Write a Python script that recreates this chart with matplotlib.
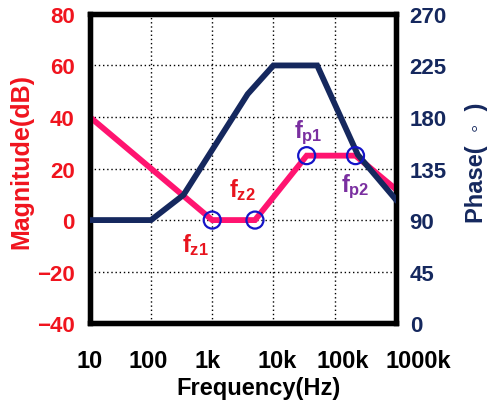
import matplotlib
matplotlib.use("Agg")
import matplotlib.pyplot as plt
from matplotlib.transforms import blended_transform_factory, offset_copy
import numpy as np

plt.rcParams['font.family'] = ['Liberation Sans', 'DejaVu Sans']
plt.rcParams['font.weight'] = 'bold'
plt.rcParams['axes.labelweight'] = 'bold'
plt.rcParams['mathtext.fontset'] = 'custom'
plt.rcParams['mathtext.rm'] = 'Liberation Sans:bold'
plt.rcParams['mathtext.bf'] = 'Liberation Sans:bold'
plt.rcParams['mathtext.it'] = 'Liberation Sans:bold'

# magnitude (dB) corner points
mag_f = [10, 1e3, 5e3, 35e3, 220e3, 1e6]
mag_db = [40, 0, 0, 25, 25, 12]

# phase (deg) corner points
ph_f = [10, 100, 340, 3.8e3, 10e3, 52e3, 240e3, 1e6]
ph_deg = [90, 90, 112, 200, 225, 225, 147, 108]

# marked zeros / poles
mark_f = [1e3, 5e3, 35e3, 220e3]
mark_db = [0, 0, 25, 25]
mark_txt = [r'$f_{z1}$', r'$f_{z2}$', r'$f_{p1}$', r'$f_{p2}$']
mark_col = ['#E8141E', '#E8141E', '#7A2FA0', '#7A2FA0']
mark_off = [(-12, -17), (-9, 22), (1, 17), (0, -22)]

xticks = [10, 100, 1e3, 1e4, 1e5, 1e6]
xlabels = ['10', '100', '1k', '10k', '100k', '1000k']
xlabel_shift = [0, -2, -3, 3, 6, 16]  # points, labels in the original drift right

red = '#F0141E'
navy = '#15285E'
pink = '#FF1470'

fig = plt.figure(figsize=(4.91, 4.14), dpi=100)
ax = fig.add_axes([0.183, 0.217, 0.623, 0.747])
ax2 = ax.twinx()

ax.plot(mag_f, mag_db, color=pink, lw=4.2, solid_joinstyle='miter', zorder=3)
ax2.plot(ph_f, ph_deg, color=navy, lw=4.2, solid_joinstyle='miter', zorder=3)
ax2.scatter(mark_f, mark_db, s=150, facecolors='none', edgecolors='#1414C8',
            linewidths=1.6, transform=ax.transData, zorder=5)
for f, m, t, c, o in zip(mark_f, mark_db, mark_txt, mark_col, mark_off):
    ax2.annotate(t, (f, m), xycoords=ax.transData, xytext=o, textcoords='offset points',
                 ha='center', va='center', fontsize=17, color=c, zorder=6)

ax.set_xscale('log')
ax.set_xlim(10, 1e6)
ax.set_ylim(-40, 80)
ax2.set_ylim(0, 270)
ax.set_xticks(xticks)
ax.set_xticklabels([])
ax.minorticks_off()
ax.set_yticks(np.arange(-40, 81, 20))
ax2.set_yticks(np.arange(0, 271, 45))
ax.grid(True, ls=(0, (1, 2)), color='black', lw=1.0)

# x tick labels drawn as texts so they can drift like the original
blend = blended_transform_factory(ax.transData, ax.transAxes)
for x, lab, dx in zip(xticks, xlabels, xlabel_shift):
    tr = offset_copy(blend, fig=fig, x=dx, y=-27, units='points')
    ax.text(x, 0, lab, transform=tr, ha='center', va='center', fontsize=17,
            color='black', clip_on=False)

ax.tick_params(axis='x', length=0)
ax.tick_params(axis='y', length=0, pad=11, labelsize=16, labelcolor=red)
ax2.tick_params(axis='y', length=0, pad=10, labelsize=16, labelcolor=navy)
for a in (ax, ax2):
    for s in a.spines.values():
        s.set_linewidth(3.8)
        s.set_color('black')

fig.text(258 / 491, 1 - 389 / 414, 'Frequency(Hz)', fontsize=17, color='black',
         ha='center', va='center')
fig.text(21 / 491, 1 - 162 / 414, 'Magnitude(dB)', fontsize=18, color=red,
         ha='center', va='center', rotation=90)
fig.text(477 / 491, 1 - 163 / 414, 'Phase(  \u25e6  )', fontsize=17, color=navy,
         ha='center', va='center', rotation=90)

fig.savefig('out.png', dpi=100)
